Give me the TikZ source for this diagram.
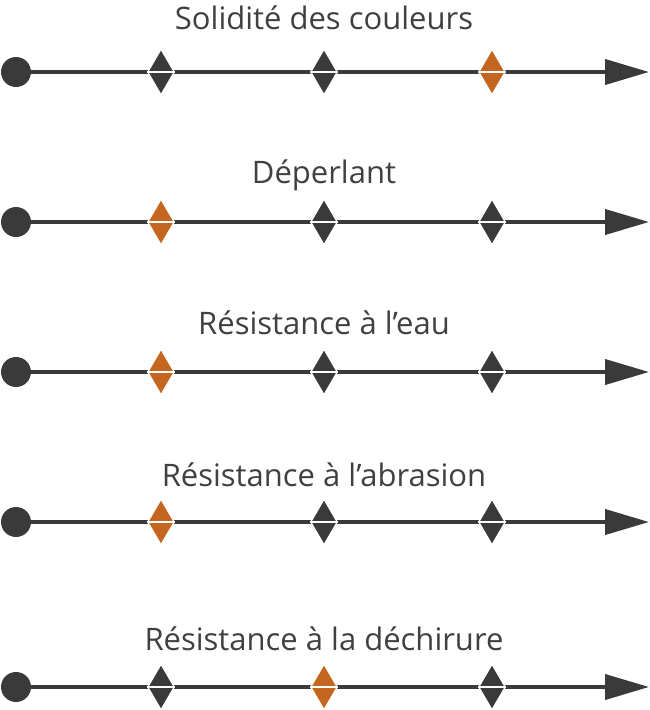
\documentclass[tikz,border=0pt]{standalone}
\usepackage{fontspec}
\setmainfont{Open Sans}
\usetikzlibrary{arrows.meta,shapes.geometric}
\definecolor{axisgray}{HTML}{3A3A3A}
\definecolor{markorange}{HTML}{C4661F}
\definecolor{titlegray}{HTML}{404040}
\begin{document}
\begin{tikzpicture}[x=1pt,y=-1pt,
  axisline/.style={line width=4pt, draw=axisgray, -{Triangle[length=44pt,width=25pt]}},
  startdot/.style={circle, fill=axisgray, minimum size=30pt, inner sep=0pt},
  rating/.style={diamond, minimum width=27pt, minimum height=46pt, inner sep=0pt, draw=white, line width=1.2pt},
  splitline/.style={draw=white, line width=1.2pt},
  title/.style={font=\fontsize{31}{36}\selectfont, text=titlegray, anchor=base}]
\useasboundingbox (0,0) rectangle (650,710);
\foreach \r/\y/\b/\t/\o in {1/72/29/Solidité des couleurs/3,
                            2/222/183/Déperlant/1,
                            3/372/334/Résistance à l’eau/1,
                            4/522/486/Résistance à l’abrasion/1,
                            5/687/650/Résistance à la déchirure/2}{
  \node[title] (t\r) at (324,\b) {\t};
  \node[startdot] (s\r) at (16,\y) {};
  \coordinate (e\r) at (649,\y);
  \draw[axisline] (s\r.center) -- (e\r);
  \foreach \i/\x in {1/161,2/324,3/492}{
    \ifnum\i=\o\relax\def\mc{markorange}\else\def\mc{axisgray}\fi
    \node[rating, fill=\mc] (d\r\i) at (\x,\y) {};
    \draw[splitline] (d\r\i.west) -- (d\r\i.east);
  }
}
\end{tikzpicture}
\end{document}
